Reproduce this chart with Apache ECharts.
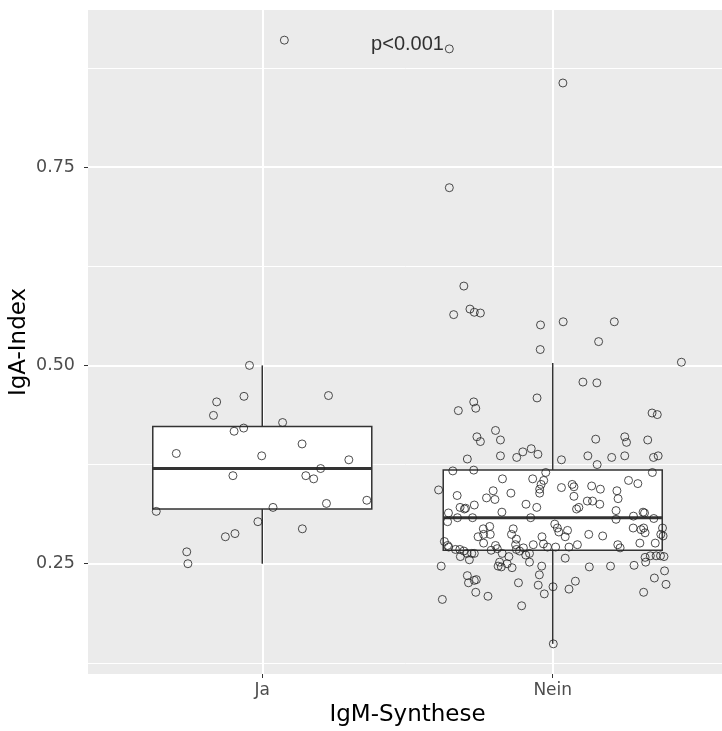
<!DOCTYPE html>
<html>
<head>
<meta charset="utf-8">
<script src="https://cdn.jsdelivr.net/npm/echarts@6/dist/echarts.min.js"></script>
<style>
  html, body { margin: 0; padding: 0; background: #fff; }
  #chart { width: 722px; height: 731px; }
</style>
</head>
<body>
<div id="chart"></div>
<script>
// groups on the x axis (positions 1 and 2)
var categories = ['Ja', 'Nein'];

// box statistics: [low, q1, median, q3, high]
var boxJa = [0.250, 0.319, 0.370, 0.423, 0.500];
var boxNein = [0.149, 0.267, 0.308, 0.368, 0.503];

// jittered points: horizontal offset from the group centre, and IgA-Index
var jaOffset = [-0.044, -0.063, -0.157, -0.168, 0.228, 0.070, -0.064, -0.097, -0.296, -0.002,
  0.137, 0.298, 0.201, -0.101, 0.150, 0.177, 0.360, 0.221, 0.037, -0.365,
  -0.015, 0.138, -0.094, -0.127, -0.260, -0.256, 0.076];
var jaValue = [0.500, 0.461, 0.454, 0.437, 0.462, 0.428, 0.421, 0.417, 0.389, 0.386,
  0.401, 0.381, 0.370, 0.361, 0.361, 0.357, 0.330, 0.326, 0.321, 0.316,
  0.303, 0.294, 0.288, 0.284, 0.265, 0.250, 0.910];

var neinOffset = [-0.356, 0.035, -0.356, -0.306, -0.341, -0.285, -0.270, -0.249, -0.042, 0.036,
  0.212, 0.158, -0.043, 0.443, 0.104, 0.152, -0.054, -0.272, -0.265, -0.325,
  0.342, 0.360, -0.197, -0.261, -0.180, 0.148, 0.248, 0.327, -0.249, 0.254,
  -0.294, -0.180, -0.124, -0.103, -0.074, -0.051, 0.030, 0.121, 0.153, 0.203,
  0.248, 0.347, 0.363, -0.344, -0.272, -0.024, 0.343, -0.393, -0.329, -0.173,
  -0.069, -0.031, -0.040, -0.045, -0.045, -0.205, -0.199, -0.228, -0.144, 0.030,
  0.067, 0.073, 0.073, 0.134, 0.164, 0.221, 0.225, 0.261, 0.293, 0.119,
  0.137, 0.162, -0.092, -0.055, 0.082, 0.090, -0.319, -0.304, -0.300, -0.270,
  -0.175, -0.359, -0.328, -0.276, -0.076, 0.218, 0.218, 0.278, 0.311, 0.316,
  0.348, -0.362, -0.239, -0.217, -0.257, -0.238, -0.215, -0.136, -0.142, -0.125,
  -0.037, 0.007, 0.016, 0.021, 0.043, 0.051, 0.124, 0.172, 0.277, 0.304,
  0.313, 0.318, 0.378, 0.372, 0.380, 0.300, 0.353, -0.373, -0.362, -0.358,
  -0.335, -0.320, -0.306, -0.295, -0.279, -0.318, -0.287, -0.270, -0.238, -0.212,
  -0.197, -0.191, -0.174, -0.151, -0.128, -0.125, -0.114, -0.080, -0.067, -0.032,
  -0.018, 0.010, 0.056, 0.085, 0.224, 0.232, -0.384, -0.183, -0.188, -0.177,
  -0.157, -0.140, -0.080, -0.038, 0.043, 0.126, 0.199, 0.280, 0.318, 0.320,
  0.336, 0.356, 0.371, 0.383, 0.385, 0.350, 0.390, 0.313, -0.046, -0.294,
  -0.290, -0.270, -0.263, -0.265, -0.223, -0.380, -0.118, -0.107, -0.050, -0.029,
  0.001, 0.056, 0.078, 0.002, -0.093, -0.101];
var neinValue = [0.899, 0.856, 0.724, 0.600, 0.564, 0.571, 0.567, 0.566, 0.551, 0.555,
  0.555, 0.530, 0.520, 0.504, 0.479, 0.478, 0.459, 0.454, 0.446, 0.443,
  0.440, 0.438, 0.418, 0.410, 0.406, 0.407, 0.410, 0.406, 0.404, 0.403,
  0.382, 0.386, 0.384, 0.391, 0.395, 0.388, 0.381, 0.386, 0.375, 0.384,
  0.386, 0.384, 0.386, 0.367, 0.368, 0.365, 0.365, 0.343, 0.336, 0.357,
  0.357, 0.355, 0.350, 0.344, 0.339, 0.342, 0.331, 0.333, 0.339, 0.346,
  0.350, 0.347, 0.335, 0.348, 0.344, 0.342, 0.332, 0.355, 0.351, 0.329,
  0.329, 0.325, 0.325, 0.321, 0.319, 0.321, 0.321, 0.319, 0.320, 0.324,
  0.315, 0.314, 0.308, 0.308, 0.308, 0.317, 0.306, 0.310, 0.315, 0.314,
  0.307, 0.303, 0.294, 0.297, 0.284, 0.287, 0.287, 0.294, 0.287, 0.281,
  0.284, 0.300, 0.295, 0.290, 0.284, 0.292, 0.287, 0.285, 0.295, 0.293,
  0.295, 0.289, 0.295, 0.287, 0.285, 0.276, 0.276, 0.278, 0.273, 0.271,
  0.268, 0.268, 0.266, 0.263, 0.263, 0.259, 0.255, 0.263, 0.276, 0.267,
  0.273, 0.269, 0.263, 0.259, 0.274, 0.268, 0.266, 0.263, 0.274, 0.275,
  0.271, 0.271, 0.271, 0.274, 0.274, 0.270, 0.247, 0.252, 0.247, 0.246,
  0.250, 0.245, 0.252, 0.247, 0.257, 0.246, 0.247, 0.248, 0.258, 0.252,
  0.260, 0.260, 0.260, 0.259, 0.241, 0.232, 0.224, 0.214, 0.236, 0.235,
  0.226, 0.229, 0.230, 0.214, 0.209, 0.205, 0.226, 0.197, 0.223, 0.212,
  0.221, 0.218, 0.228, 0.149, 0.261, 0.270];

var yTicks = [0.25, 0.50, 0.75];
var yMinorTicks = [0.125, 0.375, 0.625, 0.875];
var pLabel = 'p<0.001';

var chart = echarts.init(document.getElementById('chart'));

function pointsOf(pos, offsets, values) {
  return values.map(function (v, i) { return [pos + offsets[i], v]; });
}

var boxData = [[1].concat(boxJa), [2].concat(boxNein)];

function renderBox(params, api) {
  var x = api.value(0);
  var hw = 0.377;
  var low = api.coord([x, api.value(1)]);
  var q1 = api.coord([x, api.value(2)]);
  var q3 = api.coord([x, api.value(4)]);
  var high = api.coord([x, api.value(5)]);
  var tl = api.coord([x - hw, api.value(4)]);
  var br = api.coord([x + hw, api.value(2)]);
  var mL = api.coord([x - hw, api.value(3)]);
  var mR = api.coord([x + hw, api.value(3)]);
  var ln = { stroke: '#333', lineWidth: 1.5 };
  return {
    type: 'group',
    children: [
      { type: 'line', shape: { x1: high[0], y1: high[1], x2: q3[0], y2: q3[1] }, style: ln },
      { type: 'line', shape: { x1: low[0], y1: low[1], x2: q1[0], y2: q1[1] }, style: ln },
      { type: 'rect', shape: { x: tl[0], y: tl[1], width: br[0] - tl[0], height: br[1] - tl[1] },
        style: { fill: '#fff', stroke: '#333', lineWidth: 1.5 } },
      { type: 'line', shape: { x1: mL[0], y1: mL[1], x2: mR[0], y2: mR[1] },
        style: { stroke: '#333', lineWidth: 3 } }
    ]
  };
}

var font = 'DejaVu Sans';

var option = {
  backgroundColor: '#fff',
  animation: false,
  grid: {
    left: 88, top: 10, width: 639, height: 664,
    outerBoundsMode: 'none', containLabel: false,
    show: true, backgroundColor: '#EBEBEB', borderWidth: 0
  },
  xAxis: {
    type: 'value', min: 0.4, max: 2.6,
    axisLine: { show: false },
    axisTick: { show: true, length: 4, customValues: [1, 2], lineStyle: { color: '#333', width: 1 } },
    axisLabel: {
      customValues: [1, 2], margin: 8, color: '#4D4D4D', fontSize: 17, fontFamily: font,
      formatter: function (v) { return categories[Math.round(v) - 1]; }
    },
    splitLine: { show: true, lineStyle: { color: '#fff', width: 2 } },
    name: 'IgM-Synthese', nameLocation: 'middle', nameGap: 30,
    nameTextStyle: { color: '#000', fontSize: 23, fontFamily: font }
  },
  yAxis: [{
    type: 'value', min: 0.111, max: 0.948,
    axisLine: { show: false },
    axisTick: { show: true, length: 4, customValues: yTicks, lineStyle: { color: '#333', width: 1 } },
    axisLabel: {
      customValues: yTicks, margin: 13, color: '#4D4D4D', fontSize: 17.5, fontFamily: font,
      formatter: function (v) { return v.toFixed(2); }
    },
    splitLine: { show: true, lineStyle: { color: '#fff', width: 2 } },
    name: 'IgA-Index', nameLocation: 'middle', nameGap: 57, nameRotate: 90,
    nameMoveOverlap: false,
    nameTextStyle: { color: '#000', fontSize: 23, fontFamily: font }
  }, {
    type: 'value', min: 0.111, max: 0.948, position: 'left',
    axisLine: { show: false },
    axisTick: { show: false, customValues: yMinorTicks },
    axisLabel: { show: false, customValues: yMinorTicks },
    splitLine: { show: true, lineStyle: { color: '#fff', width: 1 } }
  }],
  series: [
    {
      type: 'custom', name: 'box', renderItem: renderBox, data: boxData,
      encode: { x: 0, y: [1, 2, 3, 4, 5] }, z: 2, silent: true
    },
    {
      type: 'scatter', name: 'Ja', data: pointsOf(1, jaOffset, jaValue),
      symbol: 'circle', symbolSize: 8, z: 3,
      itemStyle: { color: 'rgba(0,0,0,0)', borderColor: '#222', borderWidth: 1 }
    },
    {
      type: 'scatter', name: 'Nein', data: pointsOf(2, neinOffset, neinValue),
      symbol: 'circle', symbolSize: 8, z: 3,
      itemStyle: { color: 'rgba(0,0,0,0)', borderColor: '#222', borderWidth: 1 }
    },
    {
      type: 'scatter', name: 'p', data: [[1.5, 0.905]], symbolSize: 0, z: 4, silent: true,
      itemStyle: { color: 'rgba(0,0,0,0)', borderWidth: 0 },
      label: {
        show: true, position: 'inside', formatter: pLabel,
        color: '#000', fontSize: 20, fontFamily: 'Liberation Sans'
      }
    }
  ]
};

chart.setOption(option);
window.onresize = chart.resize;
</script>
</body>
</html>
